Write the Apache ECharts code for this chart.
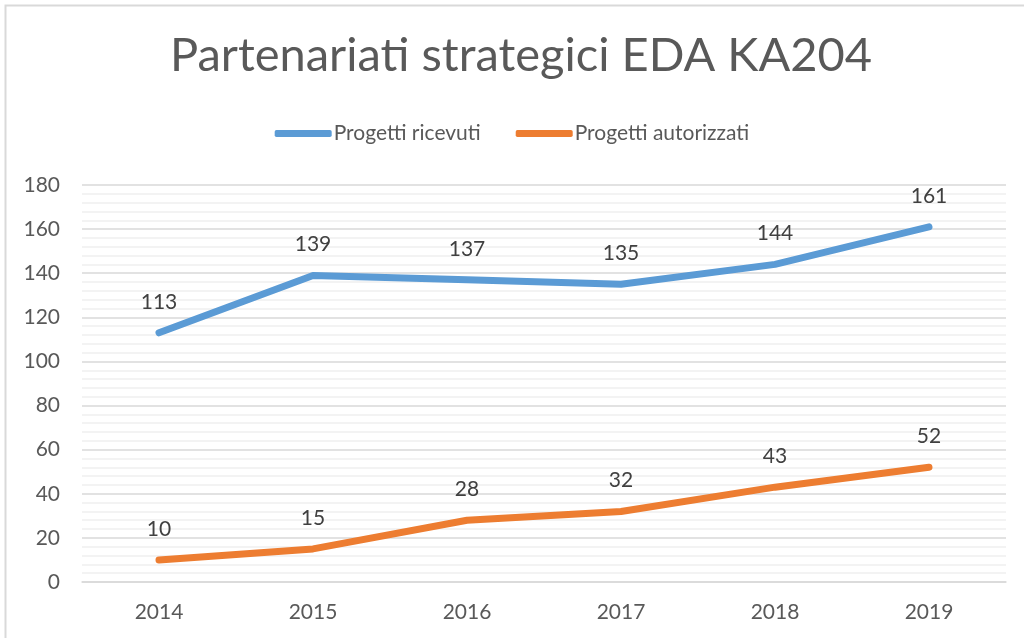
<!DOCTYPE html>
<html>
<head>
<meta charset="utf-8">
<script src="https://cdn.jsdelivr.net/npm/echarts@6/dist/echarts.min.js"></script>
<style>
  html, body { margin: 0; padding: 0; background: #fff; }
  #chart { width: 1024px; height: 638px; }
</style>
</head>
<body>
<div id="chart"></div>
<script>
const years = ['2014', '2015', '2016', '2017', '2018', '2019'];
const ricevuti = [113, 139, 137, 135, 144, 161];
const autorizzati = [10, 15, 28, 32, 43, 52];

const font = 'Lato, "Open Sans", sans-serif';
const chart = echarts.init(document.getElementById('chart'));

const labelStyle = {
  show: true,
  position: 'top',
  distance: 20,
  color: '#404040',
  fontSize: 21,
  fontFamily: font,
};

chart.setOption({
  animation: false,
  textStyle: { fontFamily: font },
  graphic: [
    {
      type: 'rect',
      shape: { x: 5.5, y: 5.5, width: 1100, height: 700 },
      style: { fill: 'none', stroke: '#d9d9d9', lineWidth: 2 },
      silent: true,
    },
  ],
  title: {
    text: 'Partenariati strategici EDA KA204',
    left: 170,
    top: 32,
    padding: 0,
    textStyle: {
      color: '#595959',
      fontSize: 47,
      fontWeight: 'normal',
      fontFamily: font,
    },
  },
  legend: {
    top: 118,
    left: 'center',
    itemWidth: 57,
    itemHeight: 7,
    itemGap: 35,
    icon: 'roundRect',
    textStyle: { color: '#595959', fontSize: 21, fontFamily: font, padding: [0, 0, 0, -3] },
    data: ['Progetti ricevuti', 'Progetti autorizzati'],
  },
  grid: {
    left: 82,
    right: 18,
    top: 185,
    bottom: 56,
    containLabel: false,
  },
  xAxis: {
    type: 'category',
    data: years,
    boundaryGap: true,
    axisLine: { show: true, lineStyle: { color: '#d9d9d9', width: 1.5 } },
    axisTick: { show: false },
    axisLabel: { color: '#595959', fontSize: 21, margin: 20, fontFamily: font },
  },
  yAxis: {
    type: 'value',
    min: 0,
    max: 180,
    interval: 20,
    axisLine: { show: false },
    axisTick: { show: false },
    axisLabel: { color: '#595959', fontSize: 21, margin: 22, fontFamily: font },
    splitLine: { lineStyle: { color: '#d9d9d9', width: 1.5 } },
    minorTick: { show: false, splitNumber: 5 },
    minorSplitLine: { show: true, lineStyle: { color: '#f0f0f0', width: 1.5 } },
  },
  series: [
    {
      name: 'Progetti ricevuti',
      type: 'line',
      data: ricevuti,
      symbol: 'circle',
      symbolSize: 1,
      showSymbol: true,
      color: '#5b9bd5',
      lineStyle: { width: 7, cap: 'round', join: 'round' },
      label: labelStyle,
    },
    {
      name: 'Progetti autorizzati',
      type: 'line',
      data: autorizzati,
      symbol: 'circle',
      symbolSize: 1,
      showSymbol: true,
      color: '#ed7d31',
      lineStyle: { width: 7, cap: 'round', join: 'round' },
      label: labelStyle,
    },
  ],
});
</script>
</body>
</html>
